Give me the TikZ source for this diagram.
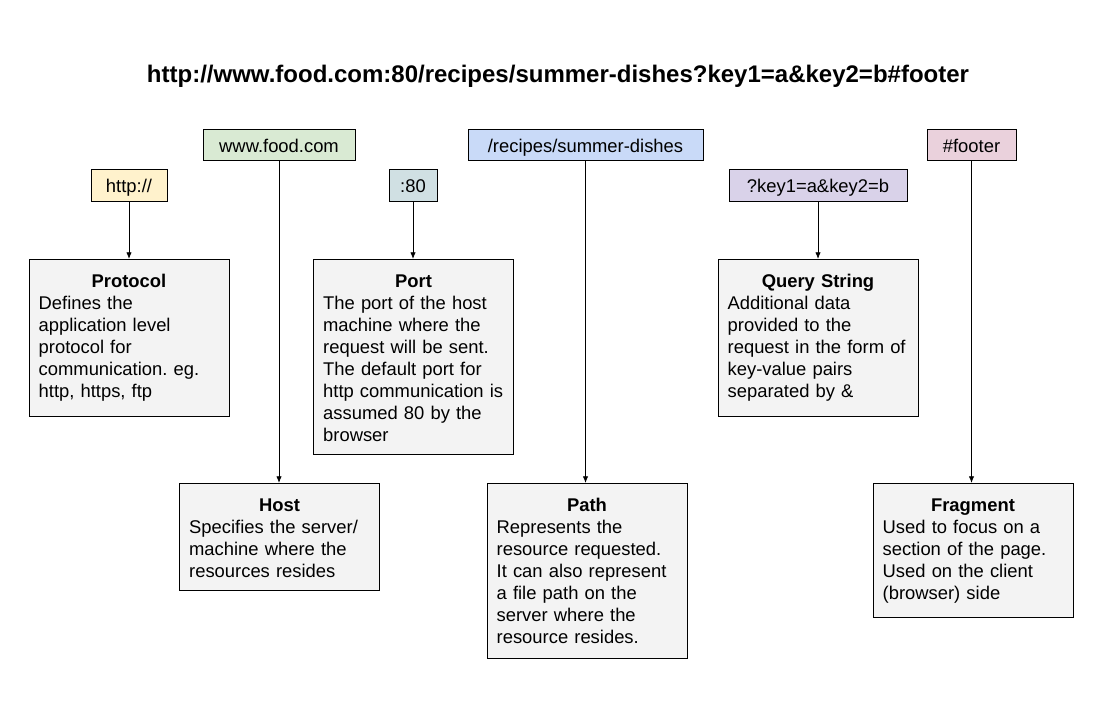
\documentclass[tikz,border=0pt]{standalone}
\usepackage{fontspec}
\setmainfont{Liberation Sans}
\usetikzlibrary{arrows.meta}
\frenchspacing

\definecolor{colprot}{HTML}{FFF2CC}
\definecolor{colhost}{HTML}{D9EAD3}
\definecolor{colport}{HTML}{D0E0E3}
\definecolor{colpath}{HTML}{C9DAF8}
\definecolor{colquery}{HTML}{D9D2E9}
\definecolor{colfrag}{HTML}{EAD1DC}
\definecolor{colcaja}{HTML}{F3F3F3}

\tikzset{
  etiqueta/.style={draw, line width=0.75pt, minimum height=23.25pt, inner sep=0pt,
    text height=12pt, text depth=1.5pt, font=\fontsize{13.8}{16.5}\selectfont},
  caja/.style={draw, line width=0.75pt, fill=colcaja, anchor=north, align=left,
    text width=135.5pt, inner xsep=7.25pt, inner ysep=7pt, text height=14pt,
    font=\fontsize{13.8}{16.5}\selectfont},
  flecha/.style={-{Latex[length=5pt,width=4pt]}, line width=0.6pt}
}

\newcommand{\titcaja}[1]{\makebox[\linewidth]{\bfseries #1}}

\begin{document}
\begin{tikzpicture}[x=0.75pt, y=-0.75pt]
    \useasboundingbox (0,0) rectangle (1102,706);
    % Titulo
    \node[font=\fontsize{18}{22}\selectfont\bfseries] (url) at (558,76.5)
      {http://www.food.com:80/recipes/summer-dishes?key1=a\&key2=b\#footer};
    % Partes de la URL
    \node[etiqueta, fill=colprot, minimum width=57pt] (prot) at (129,185.5) {http://};
    \node[etiqueta, fill=colhost, minimum width=114pt] (host) at (279,145.5) {www.food.com};
    \node[etiqueta, fill=colport, minimum width=36pt] (port) at (413,185.5) {:80};
    \node[etiqueta, fill=colpath, minimum width=176.25pt] (path) at (585.5,145.5) {/recipes/summer-dishes};
    \node[etiqueta, fill=colquery, minimum width=133.5pt] (query) at (818,185.5) {?key1=a\&key2=b};
    \node[etiqueta, fill=colfrag, minimum width=66.75pt] (frag) at (971.5,145.5) {\#footer};
    % Descripciones
    \node[caja, text depth=89.75pt] (protdesc) at (129,259) {\titcaja{Protocol}\\
      Defines the\\ application level\\ protocol for\\ communication. eg.\\ http, https, ftp};
    \node[caja, text depth=118.25pt] (portdesc) at (413.5,259) {\titcaja{Port}\\
      The port of the host\\ machine where the\\ request will be sent.\\ The default port for\\
      http communication is\\ assumed 80 by the\\ browser};
    \node[caja, text depth=89.75pt] (querydesc) at (818,259) {\titcaja{Query String}\\
      Additional data\\ provided to the\\ request in the form of\\ key-value pairs\\ separated by \&};
    \node[caja, text depth=52.25pt] (hostdesc) at (279.5,483) {\titcaja{Host}\\
      Specifies the server/\\ machine where the\\ resources resides};
    \node[caja, text depth=103.25pt] (pathdesc) at (587,483) {\titcaja{Path}\\
      Represents the\\ resource requested.\\ It can also represent\\ a file path on the\\
      server where the\\ resource resides.};
    \node[caja, text depth=72.5pt] (fragdesc) at (973,483) {\titcaja{Fragment}\\
      Used to focus on a\\ section of the page.\\ Used on the client\\ (browser) side};
    % Flechas
    \draw[flecha] (prot.south) -- (prot.south |- protdesc.north);
    \draw[flecha] (host.south) -- (host.south |- hostdesc.north);
    \draw[flecha] (port.south) -- (port.south |- portdesc.north);
    \draw[flecha] (path.south) -- (path.south |- pathdesc.north);
    \draw[flecha] (query.south) -- (query.south |- querydesc.north);
    \draw[flecha] (frag.south) -- (frag.south |- fragdesc.north);
\end{tikzpicture}
\end{document}
